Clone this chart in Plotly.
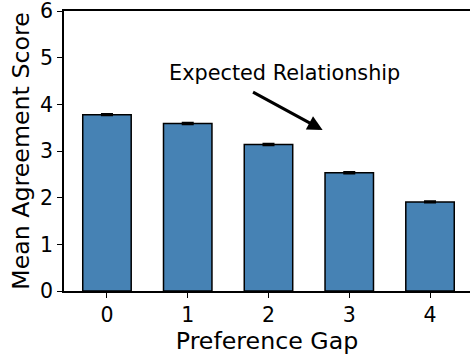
import plotly.graph_objects as go

# Mean agreement by preference gap
gaps = [0, 1, 2, 3, 4]
mean_scores = [3.78, 3.59, 3.14, 2.535, 1.91]
std_errors = [0.015, 0.015, 0.015, 0.015, 0.015]
tick_labels = ["0", "1", "2", "3", "4"]
y_ticks = [0, 1, 2, 3, 4, 5, 6]

FONT = "DejaVu Sans"

fig = go.Figure()
fig.add_trace(go.Bar(
    x=gaps,
    y=mean_scores,
    width=0.6,
    marker=dict(color="#4682B4", line=dict(color="black", width=1.5)),
    error_y=dict(type="data", array=std_errors, visible=True,
                 color="black", thickness=2, width=6),
))

# Arrow illustrating the expected downward trend
fig.add_annotation(
    x=2.67, y=3.45, ax=1.79, ay=4.28,
    xref="x", yref="y", axref="x", ayref="y",
    text="", showarrow=True,
    arrowhead=2, arrowsize=1, arrowwidth=3, arrowcolor="black",
)
fig.add_annotation(
    x=2.2, y=4.67, xref="x", yref="y",
    text="Expected Relationship", showarrow=False,
    font=dict(family=FONT, size=20.8, color="black"),
)

fig.update_layout(
    width=470, height=358,
    margin=dict(l=64, r=0, t=11, b=67),
    plot_bgcolor="white", paper_bgcolor="white",
    showlegend=False,
    font=dict(family=FONT, color="black"),
)
fig.update_xaxes(
    range=[-0.532, 4.495],
    tickmode="array", tickvals=gaps, ticktext=tick_labels,
    tickfont=dict(size=20.5, family=FONT),
    ticks="outside", ticklen=5, tickwidth=1.2, tickcolor="black",
    ticklabeloverflow="allow",
    showline=True, linecolor="black", linewidth=1.5, mirror=True,
    showgrid=False, zeroline=False,
    title=dict(text="Preference Gap", font=dict(size=23.7, family=FONT), standoff=4),
)
fig.update_yaxes(
    range=[0, 6.001],
    tickmode="array", tickvals=y_ticks,
    tickfont=dict(size=20.5, family=FONT),
    ticks="outside", ticklen=5, tickwidth=1.2, tickcolor="black",
    ticklabeloverflow="allow",
    showline=True, linecolor="black", linewidth=1.5,
    showgrid=False, zeroline=False,
    title=dict(text="Mean Agreement Score", font=dict(size=23.7, family=FONT), standoff=4),
)

fig.write_html("out.html")
